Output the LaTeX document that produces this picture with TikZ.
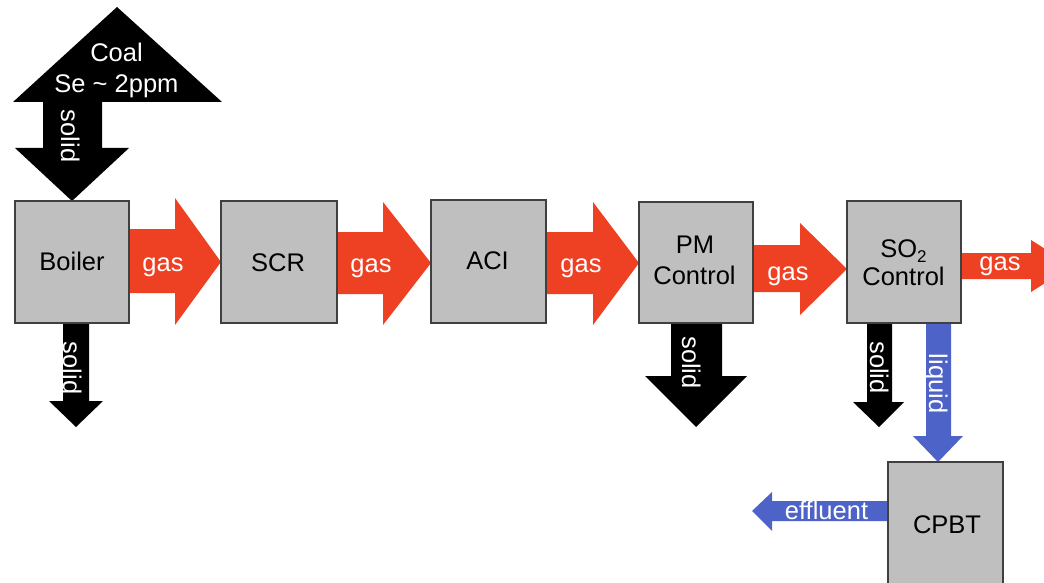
\documentclass[tikz,border=0pt]{standalone}
\usepackage{fontspec}
\setmainfont{Liberation Sans}
\pgfdeclarelayer{bg}
\pgfsetlayers{bg,main}
\definecolor{gasred}{RGB}{238,64,35}
\definecolor{liqblue}{RGB}{78,99,200}
\definecolor{boxgray}{RGB}{191,191,191}
\definecolor{boxline}{RGB}{64,64,64}
\begin{document}
\begin{tikzpicture}[x=1pt,y=-1pt,
  unit/.style={draw=boxline, fill=boxgray, line width=1.3pt, outer sep=0pt, inner sep=0pt},
  lbl/.style={anchor=base, inner sep=0pt, font=\fontsize{25.5}{30}\selectfont},
  wlbl/.style={lbl, text=white},
  vlbl/.style={wlbl, rotate=-90},
  gasfill/.style={fill=gasred},
  liqfill/.style={fill=liqblue},
  solfill/.style={fill=black}]
\clip (0,0) rectangle (1044,583);
% units
\node[unit, minimum width=114pt, minimum height=122pt] (boiler) at (72,262) {};
\node[unit, minimum width=116pt, minimum height=122pt] (scr) at (279,262) {};
\node[unit, minimum width=115pt, minimum height=123pt] (aci) at (488.5,261.5) {};
\node[unit, minimum width=114pt, minimum height=121pt] (pm) at (696,262.5) {};
\node[unit, minimum width=114pt, minimum height=122pt] (so2) at (904,262) {};
\node[unit, minimum width=115pt, minimum height=158pt] (cpbt) at (945.5,541) {};
% unit labels
\node[lbl] (tboiler) at (72,270) {Boiler};
\node[lbl] (tscr) at (278,271) {SCR};
\node[lbl] (taci) at (487.5,269) {ACI};
\node[lbl] (tpm1) at (695,253) {PM};
\node[lbl] (tpm2) at (694.5,284) {Control};
\node[lbl] (tso1) at (903.5,257) {SO\raisebox{-5pt}{\fontsize{17}{20}\selectfont 2}};
\node[lbl] (tso2) at (903.5,285) {Control};
\node[lbl] (tcpbt) at (947,533) {CPBT};
% block arrows
\begin{pgfonlayer}{bg}
  % coal feed
  \fill[solfill] (117,7) -- (222,102) -- (13,102) -- cycle;
  \fill[solfill] (43,95) -- (102,95) -- (102,148) -- (129,148) -- (boiler.north)
     -- (15,148) -- (43,148) -- cycle;
  % gas train
  \fill[gasfill] (boiler.east |- 0,229) -- (175,229) -- (175,198) -- (scr.west)
     -- (175,325) -- (175,293) -- (boiler.east |- 0,293) -- cycle;
  \fill[gasfill] (scr.east |- 0,232) -- (383,232) -- (383,202) -- (aci.west |- 0,263)
     -- (383,325) -- (383,294) -- (scr.east |- 0,294) -- cycle;
  \fill[gasfill] (aci.east |- 0,232) -- (593,232) -- (593,202) -- (pm.west |- 0,263)
     -- (593,325) -- (593,294) -- (aci.east |- 0,294) -- cycle;
  \fill[gasfill] (pm.east |- 0,245) -- (800,245) -- (800,223) -- (so2.west |- 0,269)
     -- (800,315) -- (800,292) -- (pm.east |- 0,292) -- cycle;
  \coordinate (stack) at (1072,266);
  \fill[gasfill] (so2.east |- 0,253) -- (1031,253) -- (1031,240) -- (stack)
     -- (1031,292) -- (1031,279) -- (so2.east |- 0,279) -- cycle;
  % solids
  \fill[solfill] (boiler.south -| 63,0) -- (boiler.south -| 89,0) -- (89,401) -- (103,401)
     -- (76,427) -- (49,401) -- (63,401) -- cycle;
  \fill[solfill] (pm.south -| 671,0) -- (pm.south -| 722,0) -- (722,376) -- (747,376)
     -- (696,427) -- (645,376) -- (671,376) -- cycle;
  \fill[solfill] (so2.south -| 867,0) -- (so2.south -| 892,0) -- (892,402) -- (904,402)
     -- (879,427) -- (853,402) -- (867,402) -- cycle;
  % liquid
  \fill[liqfill] (so2.south -| 926,0) -- (so2.south -| 951,0) -- (951,436) -- (963,436)
     -- (cpbt.north -| 938,0) -- (913,436) -- (926,436) -- cycle;
  % effluent
  \coordinate (out) at (752,511);
  \fill[liqfill] (cpbt.west |- 0,501) -- (772,501) -- (772,492) -- (out)
     -- (772,531) -- (772,521) -- (cpbt.west |- 0,521) -- cycle;
\end{pgfonlayer}
% arrow labels
\node[wlbl] (tcoal1) at (116.5,62) {Coal};
\node[wlbl] (tcoal2) at (116.5,93) {Se \textasciitilde\ 2ppm};
\node[vlbl] (tsol0) at (61,136) {solid};
\node[vlbl] (tsol1) at (63,368) {solid};
\node[vlbl] (tsol2) at (682,362.5) {solid};
\node[vlbl] (tsol3) at (870,367.5) {solid};
\node[vlbl] (tliq) at (929,383.5) {liquid};
\node[wlbl] (tgas1) at (163,271) {gas};
\node[wlbl] (tgas2) at (371,272) {gas};
\node[wlbl] (tgas3) at (581,272) {gas};
\node[wlbl] (tgas4) at (788,280) {gas};
\node[wlbl] (tgas5) at (1000,270) {gas};
\node[wlbl] (teff) at (826.5,519) {effluent};
\end{tikzpicture}
\end{document}
